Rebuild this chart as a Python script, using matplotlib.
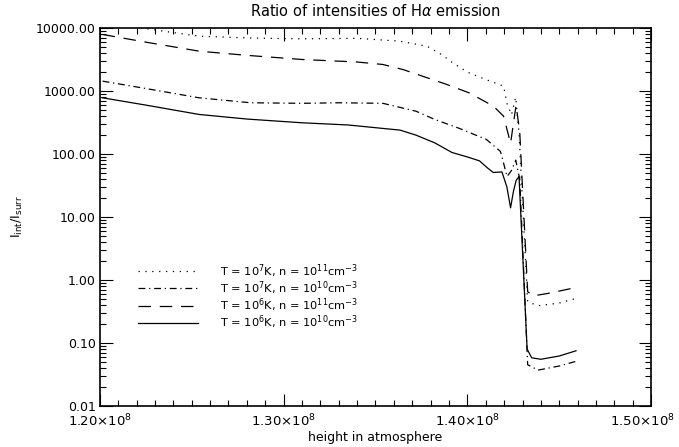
import matplotlib
matplotlib.use("Agg")
import matplotlib.pyplot as plt
import matplotlib.transforms as mtransforms
from matplotlib.ticker import FixedLocator, LogLocator, NullFormatter, FuncFormatter, MultipleLocator

# heights in units of 1e8 cm, ratios
x_dot = [1.200, 1.215, 1.226, 1.240, 1.254, 1.280, 1.310, 1.340, 1.363, 1.378, 1.386, 1.392,
         1.400, 1.410, 1.4197, 1.4216, 1.4240, 1.4263, 1.4281, 1.4328, 1.4385, 1.4500, 1.4591]
y_dot = [12500, 10800, 9750, 8500, 7460, 7000, 6760, 6900, 6220, 5180, 3800, 2820,
         2000, 1530, 1200, 630, 420, 800, 214, 0.45, 0.39, 0.43, 0.51]

x_dd = [1.2015, 1.225, 1.254, 1.282, 1.310, 1.330, 1.354, 1.372, 1.3822, 1.395, 1.4103,
        1.418, 1.4216, 1.4240, 1.4263, 1.4285, 1.4328, 1.4385, 1.4500, 1.4591]
y_dd = [1440, 1100, 783, 653, 640, 653, 640, 480, 355, 260, 171,
        110, 44, 55, 80, 40, 0.045, 0.037, 0.043, 0.051]

x_da = [1.2015, 1.225, 1.254, 1.280, 1.310, 1.340, 1.354, 1.365, 1.3728, 1.388, 1.4009,
        1.4141, 1.4197, 1.4235, 1.4265, 1.4285, 1.4328, 1.4360, 1.4450, 1.4591]
y_da = [7940, 6000, 4310, 3700, 3180, 2900, 2650, 2200, 1840, 1300, 940,
        578, 400, 148, 600, 220, 0.65, 0.56, 0.62, 0.76]

x_so = [1.2015, 1.225, 1.254, 1.280, 1.310, 1.335, 1.3634, 1.372, 1.3822, 1.3916, 1.400,
        1.4066, 1.411, 1.4141, 1.4188, 1.4215, 1.4235, 1.4250, 1.4265, 1.4281, 1.4325,
        1.4350, 1.4400, 1.4500, 1.4591]
y_so = [783, 600, 426, 360, 314, 290, 240, 200, 151, 106, 90,
        78, 60, 51, 52, 30, 14, 25, 38, 44, 0.08,
        0.058, 0.055, 0.062, 0.075]

labels = [r"T = 10$^{7}$K, n = 10$^{11}$cm$^{-3}$",
          r"T = 10$^{7}$K, n = 10$^{10}$cm$^{-3}$",
          r"T = 10$^{6}$K, n = 10$^{11}$cm$^{-3}$",
          r"T = 10$^{6}$K, n = 10$^{10}$cm$^{-3}$"]

xticks = [1.2, 1.3, 1.4, 1.5]
yticks = [0.01, 0.1, 1, 10, 100, 1000, 10000]

plt.rcParams['font.family'] = ['DejaVu Sans']
plt.rcParams['mathtext.fontset'] = 'dejavusans'

fig = plt.figure(figsize=(6.79, 4.47), dpi=100)
ax = fig.add_axes([0.147, 0.092, 0.812, 0.845])

lw = 0.9
ax.plot(x_dot, y_dot, color='black', lw=lw, linestyle=(0, (1, 4.5)), label=labels[0])
ax.plot(x_dd, y_dd, color='black', lw=lw, linestyle=(0, (5.5, 3, 1, 3)), label=labels[1])
ax.plot(x_da, y_da, color='black', lw=lw, linestyle=(0, (10, 7)), label=labels[2])
ax.plot(x_so, y_so, color='black', lw=lw, linestyle='-', label=labels[3])

ax.set_yscale('log')
ax.set_xlim(1.2, 1.5)
ax.set_ylim(0.01, 10000)

ax.xaxis.set_major_locator(FixedLocator(xticks))
ax.xaxis.set_minor_locator(MultipleLocator(0.01))
ax.xaxis.set_major_formatter(FuncFormatter(lambda v, p: r"%.2f$\times$10$^{8}$" % v))
ax.yaxis.set_major_locator(FixedLocator(yticks))
ax.yaxis.set_minor_locator(LogLocator(base=10, subs=range(2, 10)))
ax.yaxis.set_minor_formatter(NullFormatter())
ax.yaxis.set_major_formatter(FuncFormatter(lambda v, p: "%.2f" % v))

ax.tick_params(which='both', direction='in', top=True, right=True, labelsize=9, width=0.8)
ax.tick_params(which='major', length=9, pad=3)
ax.tick_params(which='minor', length=4.5)
ax.tick_params(axis='x', which='major', pad=5, labelsize=9.5)
for s in ax.spines.values():
    s.set_linewidth(1.2)

# keep the last x label inside the figure, as in the reference
fig.canvas.draw()
last = ax.get_xticklabels()[-1]
last.set_transform(last.get_transform() + mtransforms.ScaledTranslation(-9 / 100, 0, fig.dpi_scale_trans))

ax.set_title(r"Ratio of intensities of H$\alpha$ emission", fontsize=10.5, pad=9)
ax.set_xlabel("height in atmosphere", fontsize=9, labelpad=1)
ax.set_ylabel(r"I$_{\rm int}$/I$_{\rm surr}$", fontsize=9, labelpad=8)

ax.legend(loc='upper left', bbox_to_anchor=(0.05, 0.408), frameon=False,
          handlelength=5.3, handletextpad=1.9, labelspacing=-0.04, fontsize=8.2,
          borderpad=0.4)

fig.savefig("out.png", dpi=100)
